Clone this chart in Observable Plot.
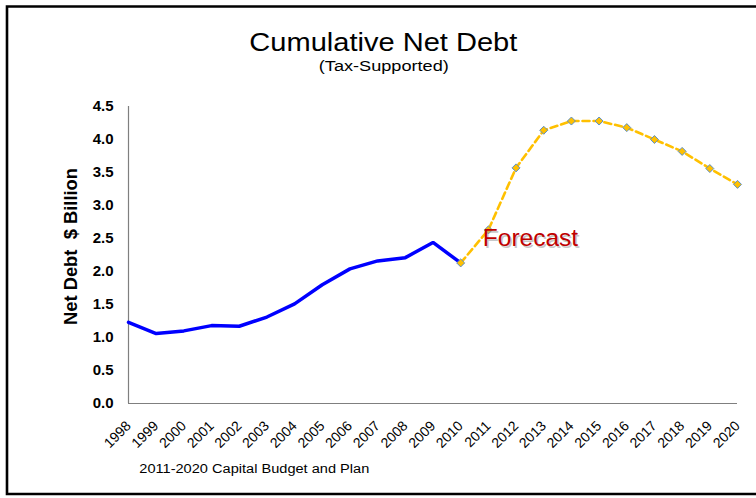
<!DOCTYPE html>
<html>
<head>
<meta charset="utf-8">
<script src="https://cdn.jsdelivr.net/npm/d3@7"></script>
<script src="https://cdn.jsdelivr.net/npm/@observablehq/plot@0.6"></script>
<style>
  html, body { margin: 0; padding: 0; background: #fff; }
  #wrap { position: relative; width: 756px; height: 498px; overflow: hidden; font-family: "Liberation Sans", Arial, sans-serif; }
  #wrap > svg { position: absolute; left: 0; top: 0; }
</style>
</head>
<body>
<div id="wrap"></div>
<script>
// ---- data ----
const actualYears = [1998, 1999, 2000, 2001, 2002, 2003, 2004, 2005, 2006, 2007, 2008, 2009, 2010];
const actualValues = [1.23, 1.06, 1.10, 1.18, 1.17, 1.31, 1.51, 1.80, 2.04, 2.16, 2.21, 2.44, 2.13];
const forecastYears = [2010, 2011, 2012, 2013, 2014, 2015, 2016, 2017, 2018, 2019, 2020];
const forecastValues = [2.13, 2.63, 3.57, 4.14, 4.28, 4.28, 4.18, 4.00, 3.82, 3.56, 3.32];
const xTicks = d3.range(1998, 2021);
const yTicks = [0, 0.5, 1.0, 1.5, 2.0, 2.5, 3.0, 3.5, 4.0, 4.5];
const titleText = "Cumulative Net Debt";
const subtitleText = "(Tax-Supported)";
const captionText = "2011-2020 Capital Budget and Plan";
const yLabelText = "Net Debt  $ Billion";
const forecastLabel = [{year: 2010.8, value: 2.5, text: "Forecast"}];

const actual = actualYears.map((y, i) => ({year: y, value: actualValues[i]}));
const forecast = forecastYears.map((y, i) => ({year: y, value: forecastValues[i]}));

const chart = Plot.plot({
  width: 756,
  height: 498,
  marginLeft: 128,
  marginRight: 19,
  marginTop: 106,
  marginBottom: 95,
  style: {fontFamily: "'Liberation Sans', Arial, sans-serif", fontSize: "12px", color: "#000", background: "transparent"},
  x: {type: "linear", domain: [1998, 2020]},
  y: {domain: [0, 4.5]},
  marks: [
    Plot.ruleX([1998], {stroke: "#7f7f7f", strokeWidth: 1.2}),
    Plot.ruleY([0], {stroke: "#7f7f7f", strokeWidth: 1.2}),
    Plot.axisY({ticks: yTicks, tickFormat: d3.format(".1f"), tickSize: 0, tickPadding: 15, fontSize: 15, fontWeight: "bold", label: null}),
    Plot.axisX({ticks: xTicks, tickFormat: d => String(d), tickSize: 0, tickPadding: 20, tickRotate: -45, fontSize: 14, label: null}),
    Plot.line(actual, {x: "year", y: "value", stroke: "#0000ff", strokeWidth: 3.5, strokeLinejoin: "miter"}),
    Plot.line(forecast, {x: "year", y: "value", stroke: "#ffc000", strokeWidth: 2.6, strokeDasharray: "7,4"}),
    Plot.dot(forecast, {x: "year", y: "value", symbol: "diamond2", r: 3.6, fill: "#ffc000", stroke: "#5b8fc7", strokeWidth: 1}),
    Plot.text(forecastLabel, {x: "year", y: "value", text: "text", textAnchor: "start", fontSize: 24.5, fill: "#999", fillOpacity: 0.55, dx: 1.5, dy: 1.5}),
    Plot.text(forecastLabel, {x: "year", y: "value", text: "text", textAnchor: "start", fontSize: 24.5, fill: "#c00000"})
  ]
});

const wrap = document.getElementById("wrap");
wrap.appendChild(chart);

// overlay: border frame, title, subtitle, y label, caption
const ns = "http://www.w3.org/2000/svg";
const ov = document.createElementNS(ns, "svg");
ov.setAttribute("width", 756);
ov.setAttribute("height", 498);
ov.style.pointerEvents = "none";
ov.innerHTML = `
  <path d="M760,6.5 H7 V494 H760" fill="none" stroke="#000" stroke-width="2.6"/>
  <text x="383.3" y="50.7" text-anchor="middle" font-family="'Liberation Sans', Arial, sans-serif" font-size="25" textLength="268" lengthAdjust="spacingAndGlyphs" fill="#000">${titleText}</text>
  <text x="383.8" y="70.5" text-anchor="middle" font-family="'Liberation Sans', Arial, sans-serif" font-size="14" textLength="130" lengthAdjust="spacingAndGlyphs" fill="#000">${subtitleText}</text>
  <text transform="translate(76.5,246.5) rotate(-90)" text-anchor="middle" style="white-space:pre" font-family="'Liberation Sans', Arial, sans-serif" font-weight="bold" font-size="18" textLength="157" lengthAdjust="spacingAndGlyphs" fill="#000">${yLabelText}</text>
  <text x="139.3" y="472.7" font-family="'Liberation Sans', Arial, sans-serif" font-size="12" textLength="230" lengthAdjust="spacingAndGlyphs" fill="#000">${captionText}</text>
`;
wrap.appendChild(ov);
</script>
</body>
</html>
